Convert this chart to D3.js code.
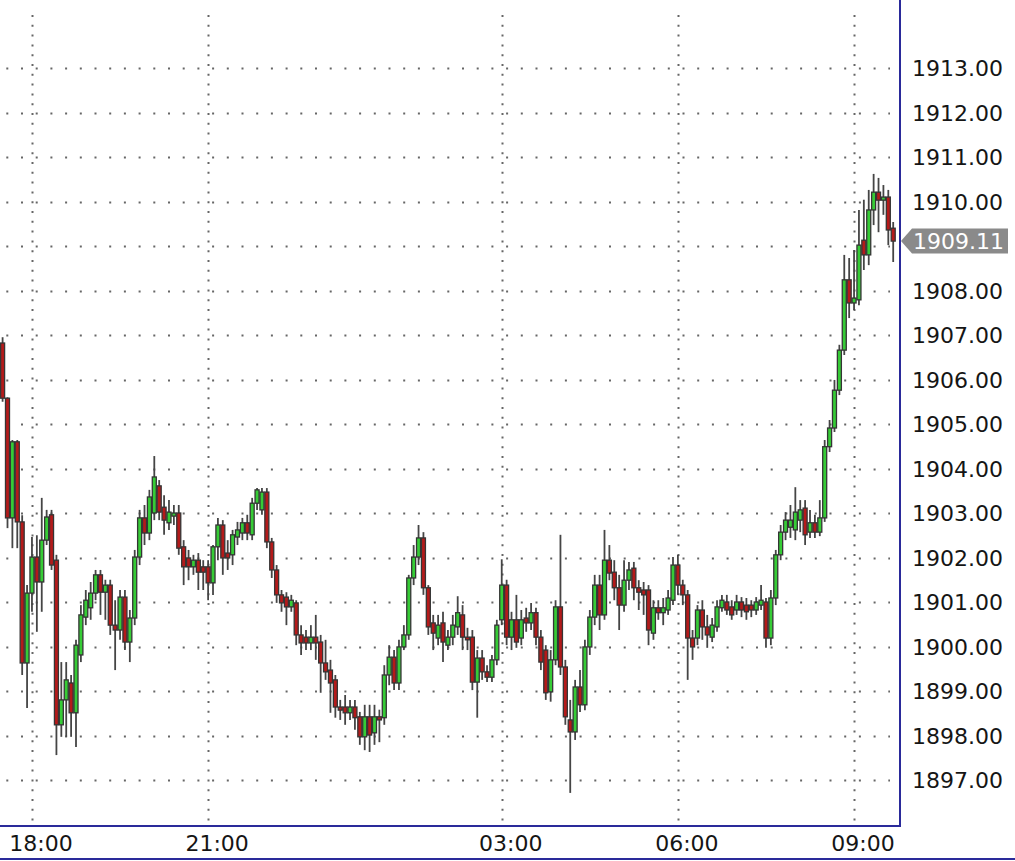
<!DOCTYPE html>
<html>
<head>
<meta charset="utf-8">
<script src="https://cdn.jsdelivr.net/npm/d3@7/dist/d3.min.js"></script>
<style>
  html, body { margin: 0; padding: 0; background: #ffffff; }
  svg { display: block; }
</style>
</head>
<body>
<svg id="chart" width="1015" height="861"></svg>
<script>
// ---- DATA (5-minute candles, 17:30 .. 09:40) ----
const open = [
1906.82,1905.58,1902.89,1904.60,1902.80,1899.63,1901.20,1902.01,1901.45,1902.39,
1902.96,1901.94,1898.24,1898.80,1899.18,1898.51,1899.81,1900.66,1900.87,1901.20,
1901.61,1901.22,1901.38,1900.48,1900.37,1901.11,1900.10,1900.64,1902.01,1902.89,
1902.55,1903.00,1903.61,1903.13,1902.78,1902.93,1903.00,1902.24,1901.99,1901.79,
1901.94,1901.79,1901.79,1901.43,1902.24,1902.73,1902.10,1902.06,1902.46,1902.55,
1902.78,1902.51,1903.22,1903.07,1903.47,1902.35,1901.72,1901.16,1901.11,1900.89,
1900.98,1900.26,1900.21,1900.08,1900.21,1900.10,1899.63,1899.47,1899.25,1898.64,
1898.64,1898.51,1898.64,1898.42,1897.97,1898.42,1898.06,1898.42,1898.40,1899.36,
1899.76,1899.18,1899.99,1900.26,1901.54,1902.01,1902.44,1901.32,1900.53,1900.19,
1900.53,1900.03,1900.21,1900.44,1900.71,1900.21,1900.21,1899.20,1899.74,1899.43,
1899.31,1899.70,1900.60,1901.38,1900.21,1900.60,1900.19,1900.64,1900.53,1900.76,
1900.21,1899.92,1898.98,1899.70,1900.89,1899.54,1898.35,1898.08,1899.09,1898.69,
1899.99,1900.66,1901.38,1900.71,1901.94,1901.67,1901.32,1900.93,1901.49,1901.76,
1901.32,1901.27,1901.27,1900.30,1900.87,1900.76,1900.82,1901.04,1901.83,1901.38,
1901.16,1900.19,1900.19,1900.82,1900.44,1900.21,1900.44,1900.87,1901.00,1900.89,
1900.82,1901.00,1900.93,1900.93,1900.82,1900.93,1901.00,1900.19,1901.09,1902.06,
1902.57,1902.68,1902.62,1902.84,1903.11,1902.57,1902.78,1902.57,1902.89,1904.49,
1904.91,1905.76,1906.66,1908.24,1907.72,1907.79,1909.13,1908.80,1909.81,1910.21,
1910.03,1910.10,1909.40
];
const high = [
1906.95,1905.60,1904.64,1904.64,1902.95,1901.38,1902.46,1902.50,1903.34,1903.07,
1903.07,1902.06,1899.65,1899.65,1899.36,1900.15,1900.93,1901.27,1901.45,1901.72,
1901.72,1901.50,1901.50,1901.04,1901.27,1901.27,1900.82,1902.17,1903.07,1903.18,
1903.52,1904.28,1903.74,1903.40,1903.29,1903.18,1903.18,1902.39,1902.17,1902.06,
1902.10,1901.94,1901.94,1902.28,1902.89,1902.84,1902.39,1902.62,1902.80,1902.89,
1902.96,1903.34,1903.56,1903.56,1903.56,1902.44,1901.83,1901.27,1901.22,1901.16,
1901.04,1900.48,1900.37,1900.48,1900.71,1900.26,1900.15,1899.70,1899.36,1898.80,
1898.91,1898.80,1898.80,1898.53,1898.69,1898.69,1898.69,1898.58,1899.58,1900.03,
1899.92,1900.15,1900.48,1901.61,1902.28,1902.73,1902.57,1901.38,1900.71,1900.71,
1900.78,1900.37,1900.71,1901.13,1900.93,1900.42,1900.37,1899.92,1899.92,1899.58,
1899.81,1900.60,1901.96,1901.50,1900.78,1901.16,1900.82,1900.87,1900.98,1900.87,
1900.37,1900.03,1899.92,1901.04,1902.51,1899.70,1898.80,1899.25,1899.47,1900.15,
1900.82,1901.61,1901.61,1902.62,1902.28,1901.94,1901.61,1901.94,1901.90,1901.90,
1901.49,1901.45,1901.38,1901.04,1901.04,1901.09,1901.27,1902.01,1902.06,1901.50,
1901.27,1900.37,1900.93,1901.04,1900.71,1900.64,1901.04,1901.16,1901.16,1901.04,
1901.16,1901.11,1901.09,1901.04,1901.11,1901.38,1901.09,1901.27,1902.17,1902.73,
1903.02,1903.18,1903.58,1903.29,1903.29,1903.07,1902.96,1903.29,1904.64,1905.09,
1905.99,1906.78,1908.80,1908.73,1908.91,1909.81,1910.04,1910.26,1910.62,1910.53,
1910.37,1910.26,1909.54
];
const low = [
1905.50,1902.66,1902.21,1902.21,1899.36,1898.62,1900.78,1900.33,1900.78,1902.28,
1901.72,1897.56,1897.97,1897.97,1897.97,1897.74,1899.65,1900.48,1900.60,1901.04,
1900.71,1900.60,1900.26,1899.47,1900.15,1899.92,1899.65,1900.48,1901.83,1902.28,
1902.39,1902.84,1902.84,1902.51,1902.62,1902.73,1902.06,1901.38,1901.49,1901.61,
1901.27,1901.27,1901.04,1901.16,1901.94,1901.61,1901.72,1901.83,1902.28,1902.39,
1902.39,1902.39,1903.07,1902.96,1902.21,1901.54,1900.98,1900.78,1900.48,1900.78,
1900.03,1899.81,1899.92,1899.92,1899.70,1898.96,1899.25,1898.51,1898.40,1898.35,
1898.24,1898.35,1898.13,1897.79,1897.67,1897.63,1897.79,1897.85,1898.24,1899.13,
1899.02,1899.02,1899.92,1900.15,1901.38,1901.83,1901.16,1900.26,1899.92,1900.03,
1899.65,1899.92,1900.03,1900.26,1899.92,1899.92,1899.02,1898.40,1899.25,1899.20,
1899.20,1899.58,1900.48,1900.03,1899.92,1899.97,1900.03,1900.33,1900.37,1900.03,
1899.47,1898.80,1898.76,1899.58,1899.36,1898.24,1896.71,1897.90,1898.53,1898.57,
1899.81,1900.48,1900.37,1900.60,1901.49,1901.04,1900.37,1900.78,1901.27,1901.04,
1900.82,1900.71,1900.03,1900.15,1900.60,1900.48,1900.71,1900.93,1901.16,1900.93,
1899.25,1899.70,1900.03,1900.15,1899.97,1900.10,1900.33,1900.78,1900.71,1900.60,
1900.71,1900.66,1900.60,1900.66,1900.71,1900.82,1899.97,1900.03,1900.93,1901.94,
1902.39,1902.44,1902.39,1902.57,1902.28,1902.44,1902.44,1902.48,1902.80,1904.37,
1904.82,1905.65,1906.55,1907.38,1907.56,1907.67,1908.46,1908.57,1909.47,1909.31,
1909.70,1909.02,1908.64
];
const close = [
1905.58,1902.89,1904.60,1902.80,1899.63,1901.20,1902.01,1901.45,1902.39,1902.91,
1901.83,1898.24,1898.80,1899.25,1898.51,1900.03,1900.71,1901.04,1901.20,1901.61,
1901.22,1901.38,1900.48,1900.37,1901.11,1900.10,1900.64,1902.01,1902.89,1902.55,
1903.36,1903.81,1903.02,1902.84,1903.02,1903.00,1902.21,1901.79,1901.79,1901.94,
1901.67,1901.67,1901.43,1902.24,1902.73,1901.99,1901.99,1902.51,1902.62,1902.78,
1902.55,1903.22,1903.52,1903.47,1902.35,1901.72,1901.16,1900.98,1900.89,1901.04,
1900.26,1900.08,1900.08,1900.21,1900.08,1899.63,1899.43,1899.18,1898.64,1898.57,
1898.51,1898.64,1898.40,1897.97,1898.42,1898.01,1898.42,1898.35,1899.36,1899.76,
1899.18,1899.99,1900.26,1901.54,1902.01,1902.44,1901.32,1900.44,1900.30,1900.48,
1900.10,1900.21,1900.48,1900.76,1900.21,1900.15,1899.20,1899.74,1899.43,1899.31,
1899.70,1900.48,1901.38,1900.21,1900.60,1900.10,1900.60,1900.53,1900.76,1900.21,
1899.65,1898.96,1899.70,1900.89,1899.54,1898.42,1898.08,1899.09,1898.69,1899.99,
1900.66,1901.38,1900.71,1901.94,1901.65,1901.32,1900.93,1901.49,1901.72,1901.32,
1901.22,1901.16,1900.37,1900.87,1900.76,1900.87,1901.09,1901.83,1901.38,1901.16,
1900.19,1899.99,1900.82,1900.44,1900.26,1900.48,1900.89,1901.04,1900.82,1900.71,
1901.00,1900.82,1900.78,1900.82,1901.00,1901.04,1900.19,1901.09,1902.06,1902.57,
1902.84,1902.84,1903.02,1903.07,1902.51,1902.78,1902.57,1902.89,1904.49,1904.91,
1905.76,1906.66,1908.24,1907.72,1907.83,1909.02,1908.80,1909.81,1910.21,1910.03,
1910.10,1909.36,1909.11
];
const yTicks = [1897,1898,1899,1900,1901,1902,1903,1904,1905,1906,1907,1908,1909,1910,1911,1912,1913];
const xTickLabels = ["18:00","21:00","03:00","06:00","09:00"];
const xTickIndex  = [6, 42, 102, 138, 174];
const lastPrice = 1909.11;

// ---- LAYOUT ----
const plotRight = 900, plotBottom = 826;
const svg = d3.select("#chart");

const x = d3.scaleLinear().domain([0, open.length - 1]).range([2.6, 893.2]);
const y = d3.scaleLinear().domain([1897, 1913]).range([780, 68]);
const step = x(1) - x(0);
const bw = step * 0.82;

const candles = open.map((o, i) => ({ i, o, h: high[i], l: low[i], c: close[i] }));

// grid
const grid = svg.append("g");
grid.selectAll("line.hg").data(yTicks).join("line")
  .attr("x1", 6.3).attr("x2", 890)
  .attr("y1", d => Math.round(y(d)) + 0.5).attr("y2", d => Math.round(y(d)) + 0.5)
  .attr("stroke", "#666666").attr("stroke-width", 2)
  .attr("stroke-dasharray", "2 12.7");
grid.selectAll("line.vg").data(xTickIndex).join("line")
  .attr("x1", d => Math.round(x(d)) + 0.5).attr("x2", d => Math.round(x(d)) + 0.5)
  .attr("y1", 15).attr("y2", plotBottom)
  .attr("stroke", "#666666").attr("stroke-width", 2)
  .attr("stroke-dasharray", "2 7.8");

// candles
const cg = svg.append("g");
cg.selectAll("line.wick").data(candles).join("line")
  .attr("x1", d => x(d.i)).attr("x2", d => x(d.i))
  .attr("y1", d => y(d.h)).attr("y2", d => y(d.l))
  .attr("stroke", "#454545").attr("stroke-width", 1.8);
cg.selectAll("rect.body").data(candles).join("rect")
  .attr("x", d => x(d.i) - bw / 2)
  .attr("width", bw)
  .attr("y", d => y(Math.max(d.o, d.c)))
  .attr("height", d => Math.max(1, Math.abs(y(d.o) - y(d.c))))
  .attr("fill", d => d.c >= d.o ? "#36cc36" : "#b41a1a")
  .attr("stroke", "#353535").attr("stroke-width", 1.3);

// frame
svg.append("line").attr("x1", plotRight).attr("x2", plotRight).attr("y1", 0).attr("y2", plotBottom + 1)
  .attr("stroke", "#2a2a9a").attr("stroke-width", 2);
svg.append("line").attr("x1", 0).attr("x2", plotRight + 1).attr("y1", plotBottom).attr("y2", plotBottom)
  .attr("stroke", "#2a2a9a").attr("stroke-width", 2);
svg.append("line").attr("x1", 0).attr("x2", 1015).attr("y1", 859).attr("y2", 859)
  .attr("stroke", "#2a2a9a").attr("stroke-width", 2);

// y labels (the one under the last-price tag is hidden by the tag)
svg.append("g").selectAll("text").data(yTicks.filter(t => Math.abs(t - lastPrice) > 0.5)).join("text")
  .attr("x", 912).attr("y", d => y(d) + 8)
  .attr("font-family", "DejaVu Sans").attr("font-size", 22).attr("fill", "#151515")
  .text(d => d3.format(".2f")(d));

// x labels
svg.append("g").selectAll("text").data(xTickIndex).join("text")
  .attr("x", d => x(d) + 9).attr("y", 851).attr("text-anchor", "middle")
  .attr("font-family", "DejaVu Sans").attr("font-size", 22).attr("fill", "#151515")
  .text((d, k) => xTickLabels[k]);

// last price tag
const ly = y(lastPrice);
svg.append("path")
  .attr("d", `M${plotRight + 1},${ly} L912,${ly - 12.5} L1008,${ly - 12.5} L1008,${ly + 12.5} L912,${ly + 12.5} Z`)
  .attr("fill", "#8a8a8a");
svg.append("text").attr("x", 913).attr("y", ly + 8)
  .attr("font-family", "DejaVu Sans").attr("font-size", 22).attr("fill", "#ffffff")
  .text(d3.format(".2f")(lastPrice));
</script>
</body>
</html>
